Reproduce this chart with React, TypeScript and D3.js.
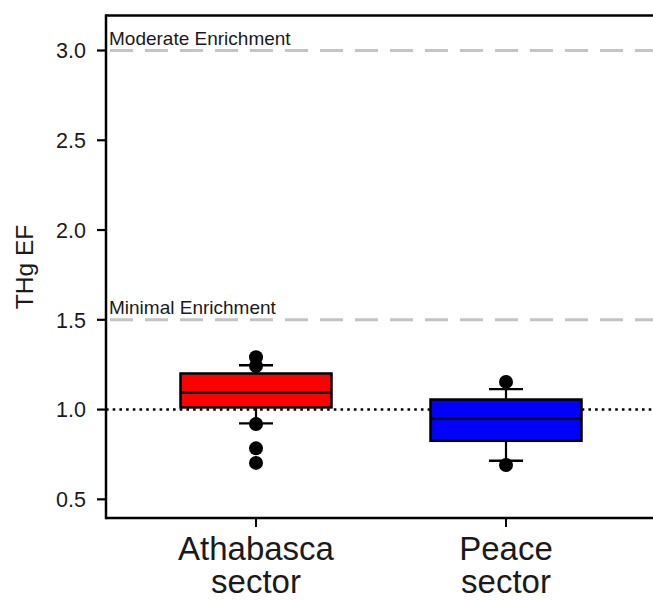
import React from "react";
import * as d3 from "d3";

const categories = ["Athabasca sector", "Peace sector"];
const boxColors = ["#ff0000", "#0000ff"];
// [lowerWhisker, q1, median, q3, upperWhisker]
const boxStats = [
  [0.923, 1.012, 1.095, 1.201, 1.247],
  [0.715, 0.826, 0.951, 1.056, 1.114],
];
const outliers = [
  [1.291, 1.243, 0.92, 0.784, 0.703],
  [1.154, 0.691],
];
const yTicks = [0.5, 1.0, 1.5, 2.0, 2.5, 3.0];
const refLines = [
  { value: 3.0, label: "Moderate Enrichment" },
  { value: 1.5, label: "Minimal Enrichment" },
];
const baselineValue = 1.0;

export default function App() {
  const W = 653;
  const H = 600;
  const left = 106;
  const top = 15.5;
  const bottom = 518;
  const right = 653;

  const y = d3.scaleLinear().domain([0.396, 3.195]).range([bottom, top]);
  const x = d3.scalePoint<string>().domain(categories).range([left, 656]).padding(0.6);
  const boxW = 151;
  const capW = 34;
  const font = "'Liberation Sans', Arial, sans-serif";

  return (
    <svg
      width={W}
      height={H}
      style={{ position: "absolute", left: 0, top: 0, background: "#fff", overflow: "hidden" }}
      fontFamily={font}
    >
      {/* reference lines */}
      {refLines.map((r) => (
        <g key={r.label}>
          <line
            x1={left}
            x2={right}
            y1={y(r.value)}
            y2={y(r.value)}
            stroke="#c4c4c4"
            strokeWidth={3}
            strokeDasharray="23 12"
            strokeDashoffset={-4}
          />
          <text x={109} y={y(r.value) - 5.5} fontSize={19} fill="#1a1a1a">
            {r.label}
          </text>
        </g>
      ))}
      <line
        x1={left}
        x2={right}
        y1={y(baselineValue)}
        y2={y(baselineValue)}
        stroke="#000"
        strokeWidth={2.6}
        strokeDasharray="2.6 4.1"
      />

      {/* boxes */}
      {categories.map((c, i) => {
        const cx = x(c) as number;
        const [lw, q1, med, q3, uw] = boxStats[i];
        return (
          <g key={c}>
            <line x1={cx} x2={cx} y1={y(q3)} y2={y(uw)} stroke="#000" strokeWidth={2.2} />
            <line x1={cx} x2={cx} y1={y(q1)} y2={y(lw)} stroke="#000" strokeWidth={2.2} />
            <line x1={cx - capW / 2} x2={cx + capW / 2} y1={y(uw)} y2={y(uw)} stroke="#000" strokeWidth={2.4} />
            <line x1={cx - capW / 2} x2={cx + capW / 2} y1={y(lw)} y2={y(lw)} stroke="#000" strokeWidth={2.4} />
            <rect
              x={cx - boxW / 2}
              y={y(q3)}
              width={boxW}
              height={y(q1) - y(q3)}
              fill={boxColors[i]}
              stroke="#000"
              strokeWidth={2.5}
            />
            <line x1={cx - boxW / 2} x2={cx + boxW / 2} y1={y(med)} y2={y(med)} stroke="#000" strokeWidth={2.5} />
            {outliers[i].map((v, j) => (
              <circle key={j} cx={cx} cy={y(v)} r={7} fill="#000" />
            ))}
          </g>
        );
      })}

      {/* frame */}
      <line x1={left} x2={right} y1={top} y2={top} stroke="#000" strokeWidth={2.5} />
      <line x1={left} x2={right} y1={bottom} y2={bottom} stroke="#000" strokeWidth={2.5} />
      <line x1={left} x2={left} y1={top - 1.2} y2={bottom + 1.2} stroke="#000" strokeWidth={2.5} />

      {/* y axis ticks */}
      {yTicks.map((t) => (
        <g key={t}>
          <line x1={left - 9} x2={left} y1={y(t)} y2={y(t)} stroke="#000" strokeWidth={2.2} />
          <text x={86} y={y(t)} dy="0.36em" textAnchor="end" fontSize={21.5} fill="#1a1a1a">
            {d3.format(".1f")(t)}
          </text>
        </g>
      ))}

      {/* x axis ticks and labels */}
      {categories.map((c) => {
        const cx = x(c) as number;
        const words = c.split(" ");
        return (
          <g key={c}>
            <line x1={cx} x2={cx} y1={bottom} y2={bottom + 9} stroke="#000" strokeWidth={2} />
            <text x={cx} y={559.5} textAnchor="middle" fontSize={33} fill="#1a1a1a">
              {words[0]}
            </text>
            <text x={cx} y={593} textAnchor="middle" fontSize={33} fill="#1a1a1a">
              {words[1]}
            </text>
          </g>
        );
      })}

      {/* y axis title */}
      <text
        transform={`translate(33, ${267}) rotate(-90)`}
        textAnchor="middle"
        fontSize={24.5}
        fill="#1a1a1a"
      >
        THg EF
      </text>
    </svg>
  );
}
